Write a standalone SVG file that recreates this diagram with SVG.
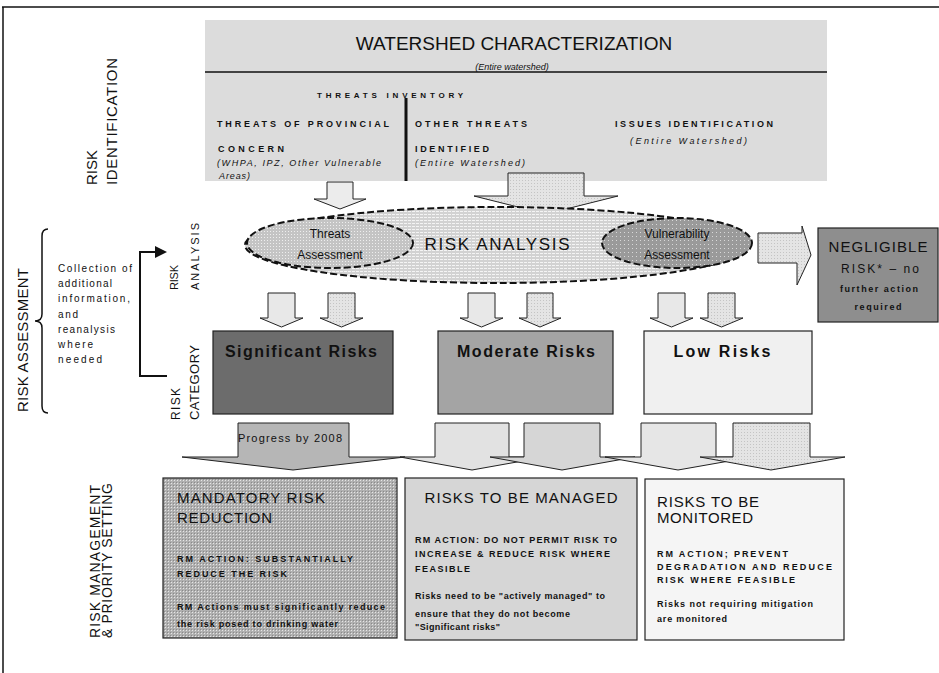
<svg xmlns="http://www.w3.org/2000/svg" width="939" height="673" viewBox="0 0 939 673">
<style>
text{font-family:"Liberation Sans",Arial,sans-serif;fill:#111}
.b{font-weight:bold}
.i{font-style:italic}
.ln{stroke:#111;fill:none}
.box{stroke:#222;stroke-width:1.2}
.arr{stroke:#222;stroke-width:1}
.sm{font-size:9px}
.hd{font-size:15px}
</style>
<defs>
<pattern id="pLines" width="4" height="3" patternUnits="userSpaceOnUse"><rect width="4" height="3" fill="#d2d2d2"/><rect y="1" width="3" height="1" fill="#f4f4f4"/></pattern>
<pattern id="pDotsL" width="3" height="3" patternUnits="userSpaceOnUse"><rect width="3" height="3" fill="#c4c4c4"/><rect width="1" height="1" fill="#eeeeee"/></pattern>
<pattern id="pDotsD" width="4" height="4" patternUnits="userSpaceOnUse"><rect width="4" height="4" fill="#9a9a9a"/><rect width="1" height="1" fill="#d8d8d8"/></pattern>
<pattern id="pMand" width="3" height="3" patternUnits="userSpaceOnUse"><rect width="3" height="3" fill="#b0b0b0"/><rect width="1" height="1" fill="#e6e6e6"/><rect x="2" y="2" width="1" height="1" fill="#8a8a8a"/></pattern>
<pattern id="pStip" width="3" height="3" patternUnits="userSpaceOnUse"><rect width="3" height="3" fill="#e4e4e4"/><rect width="1" height="1" fill="#c4c4c4"/></pattern>
</defs>

<g id="frame">
<line class="ln" x1="2" y1="7" x2="939" y2="7" stroke-width="1.5"/>
<line class="ln" x1="3" y1="7" x2="3" y2="673" stroke-width="1.5"/>
</g>

<g id="side-labels">
<text style="font-size:15px" transform="translate(97,185) rotate(-90)">RISK</text>
<text style="font-size:15px" transform="translate(117,185) rotate(-90)" textLength="127" lengthAdjust="spacing">IDENTIFICATION</text>
<text style="font-size:15px" transform="translate(28,412) rotate(-90)" textLength="144" lengthAdjust="spacing">RISK ASSESSMENT</text>
<text style="font-size:14px" transform="translate(100,638) rotate(-90)" textLength="153" lengthAdjust="spacing">RISK MANAGEMENT</text>
<text style="font-size:14px" transform="translate(112,638) rotate(-90)" textLength="155" lengthAdjust="spacing">&amp; PRIORITY SETTING</text>
<text style="font-size:11px" transform="translate(178,290) rotate(-90)" textLength="25" lengthAdjust="spacing">RISK</text>
<text style="font-size:11px" transform="translate(199,290) rotate(-90)" textLength="67" lengthAdjust="spacing">ANALYSIS</text>
<text style="font-size:12px" transform="translate(180,420) rotate(-90)" textLength="32" lengthAdjust="spacing">RISK</text>
<text style="font-size:13px" transform="translate(199,420) rotate(-90)" textLength="75" lengthAdjust="spacing">CATEGORY</text>
</g>

<g id="reanalysis">
<path class="ln" stroke-width="1.5" d="M48,229 Q42,229 42,236 L42,314 Q42,321 35,321 Q42,321 42,328 L42,406 Q42,413 48,413"/>
<g style="font-size:10px">
<text x="58" y="272" textLength="74" lengthAdjust="spacing">Collection of</text>
<text x="58" y="287" textLength="54" lengthAdjust="spacing">additional</text>
<text x="58" y="302" textLength="72" lengthAdjust="spacing">information,</text>
<text x="58" y="318" textLength="20" lengthAdjust="spacing">and</text>
<text x="58" y="333" textLength="57" lengthAdjust="spacing">reanalysis</text>
<text x="58" y="348" textLength="35" lengthAdjust="spacing">where</text>
<text x="58" y="363" textLength="44" lengthAdjust="spacing">needed</text>
</g>
</g>

<g id="connectors">
<polyline class="ln" stroke-width="2" points="167,376 140,376 140,252 156,252"/>
<polygon points="155,246 167,252 155,258" fill="#111"/>
<line class="ln" x1="545" y1="70" x2="545" y2="202" stroke-width="1.5"/>
</g>

<g id="watershed">
<rect x="205" y="20" width="622" height="161" fill="#dcdcdc"/>
<line class="ln" x1="205" y1="72" x2="827" y2="72" stroke-width="1.5"/>
<line class="ln" x1="406" y1="98" x2="406" y2="181" stroke-width="3"/>
<text x="514" y="50" text-anchor="middle" style="font-size:19px">WATERSHED CHARACTERIZATION</text>
<text x="512" y="70" text-anchor="middle" class="i" style="font-size:9px">(Entire watershed)</text>
<text x="317" y="98" class="b" style="font-size:8px" textLength="146" lengthAdjust="spacing">THREATS INVENTORY</text>
<text x="217" y="127" class="b sm" textLength="172" lengthAdjust="spacing">THREATS OF PROVINCIAL</text>
<text x="218" y="152" class="b sm" textLength="66" lengthAdjust="spacing">CONCERN</text>
<text x="217" y="166" class="i sm" textLength="164" lengthAdjust="spacing">(WHPA, IPZ, Other Vulnerable</text>
<text x="219" y="179" class="i sm" textLength="31" lengthAdjust="spacing">Areas)</text>
<text x="415" y="127" class="b sm" textLength="112" lengthAdjust="spacing">OTHER THREATS</text>
<text x="415" y="152" class="b sm" textLength="74" lengthAdjust="spacing">IDENTIFIED</text>
<text x="415" y="166" class="i sm" textLength="110" lengthAdjust="spacing">(Entire Watershed)</text>
<text x="615" y="127" class="b sm" textLength="158" lengthAdjust="spacing">ISSUES IDENTIFICATION</text>
<text x="630" y="144" class="i sm" textLength="117" lengthAdjust="spacing">(Entire Watershed)</text>
</g>

<g id="top-arrows">
<polygon class="arr" fill="#ececec" points="327,182 353,182 353,199 366,199 340,209 314,199 327,199"/>
<polygon class="arr" fill="url(#pStip)" points="508,173 584,173 584,196 618,196 546,214 474,196 508,196"/>
</g>

<g id="risk-analysis">
<ellipse cx="497" cy="245" rx="252" ry="38" fill="url(#pLines)" stroke="#111" stroke-width="2" stroke-dasharray="7,3"/>
<text x="497" y="250" text-anchor="middle" style="font-size:17px" textLength="145" lengthAdjust="spacing">RISK ANALYSIS</text>
</g>
<g id="threats-assessment">
<ellipse cx="330" cy="243" rx="83" ry="25" fill="url(#pDotsL)" stroke="#111" stroke-width="2" stroke-dasharray="7,3"/>
<text x="330" y="238" text-anchor="middle" style="font-size:12px">Threats</text>
<text x="330" y="259" text-anchor="middle" style="font-size:12px">Assessment</text>
</g>
<g id="vulnerability-assessment">
<ellipse cx="677" cy="243" rx="75" ry="25" fill="url(#pDotsD)" stroke="#111" stroke-width="2" stroke-dasharray="7,3"/>
<text x="677" y="238" text-anchor="middle" style="font-size:12px">Vulnerability</text>
<text x="677" y="259" text-anchor="middle" style="font-size:12px">Assessment</text>
</g>

<g id="negligible-arrow">
<polygon class="arr" fill="url(#pStip)" points="758,233 802,233 802,226 811,255 797,285 797,263 758,263"/>
</g>
<g id="negligible">
<rect class="box" x="818" y="228" width="120" height="94" fill="#8e8e8e"/>
<text x="878" y="252" text-anchor="middle" style="font-size:15px" textLength="99" lengthAdjust="spacing">NEGLIGIBLE</text>
<text x="880" y="273" text-anchor="middle" style="font-size:12px" textLength="78" lengthAdjust="spacing">RISK* – no</text>
<text x="879" y="292" text-anchor="middle" class="b sm" textLength="78" lengthAdjust="spacing">further action</text>
<text x="878" y="310" text-anchor="middle" class="b sm" textLength="47" lengthAdjust="spacing">required</text>
</g>

<g id="small-arrows">
<polygon class="arr" fill="#e8e8e8" points="268,293 295,293 295,318 303,318 281.5,327 260,318 268,318"/>
<polygon class="arr" fill="url(#pStip)" points="328,293 355,293 355,318 363,318 341.5,327 320,318 328,318"/>
<polygon class="arr" fill="#e8e8e8" points="468,293 495,293 495,318 503,318 481.5,327 460,318 468,318"/>
<polygon class="arr" fill="url(#pStip)" points="527,293 553,293 553,318 561,318 540,327 519,318 527,318"/>
<polygon class="arr" fill="#e8e8e8" points="658,293 685,293 685,318 693,318 671.5,327 650,318 658,318"/>
<polygon class="arr" fill="url(#pStip)" points="708,293 735,293 735,318 743,318 721.5,327 700,318 708,318"/>
</g>

<g id="significant">
<rect class="box" x="213" y="331" width="180" height="83" fill="#6c6c6c"/>
<text x="301" y="357" text-anchor="middle" class="b" style="font-size:16px" textLength="152" lengthAdjust="spacing">Significant Risks</text>
</g>
<g id="moderate">
<rect class="box" x="438" y="331" width="175" height="83" fill="#a4a4a4"/>
<text x="526" y="357" text-anchor="middle" class="b" style="font-size:16px" textLength="138" lengthAdjust="spacing">Moderate Risks</text>
</g>
<g id="low">
<rect class="box" x="644" y="331" width="168" height="83" fill="#f0f0f0"/>
<text x="722" y="357" text-anchor="middle" class="b" style="font-size:16px" textLength="97" lengthAdjust="spacing">Low Risks</text>
</g>

<g id="bottom-arrows">
<polygon class="arr" fill="#b6b6b6" points="238,423 349,423 349,457 405,457 293,470 182,457 238,457"/>
<text x="238" y="442" style="font-size:11px" textLength="104" lengthAdjust="spacing">Progress by 2008</text>
<polygon class="arr" fill="#e2e2e2" points="435,423 509,423 509,457 545,457 472,470 400,457 435,457"/>
<polygon class="arr" fill="#d6d6d6" points="524,423 600,423 600,457 635,457 562,470 490,457 524,457"/>
<polygon class="arr" fill="#e6e6e6" points="641,423 716,423 716,457 752,457 678,470 605,457 641,457"/>
<polygon class="arr" fill="url(#pStip)" points="733,423 810,423 810,457 845,457 771,470 700,457 733,457"/>
</g>

<g id="mandatory">
<rect class="box" x="163" y="478" width="234" height="160" fill="url(#pMand)"/>
<text x="177" y="503" class="hd" textLength="148" lengthAdjust="spacing">MANDATORY RISK</text>
<text x="177" y="523" class="hd" textLength="95" lengthAdjust="spacing">REDUCTION</text>
<text x="177" y="562" class="b sm" textLength="176" lengthAdjust="spacing">RM ACTION: SUBSTANTIALLY</text>
<text x="177" y="577" class="b sm" textLength="110" lengthAdjust="spacing">REDUCE THE RISK</text>
<text x="177" y="610" class="b sm" textLength="208" lengthAdjust="spacing">RM Actions must significantly reduce</text>
<text x="177" y="627" class="b sm" textLength="161" lengthAdjust="spacing">the risk posed to drinking water</text>
</g>
<g id="managed">
<rect class="box" x="405" y="478" width="232" height="162" fill="#d6d6d6"/>
<text x="521" y="503" text-anchor="middle" class="hd" textLength="193" lengthAdjust="spacing">RISKS TO BE MANAGED</text>
<text x="415" y="543" class="b sm" textLength="202" lengthAdjust="spacing">RM ACTION: DO NOT PERMIT RISK TO</text>
<text x="415" y="557" class="b sm" textLength="195" lengthAdjust="spacing">INCREASE &amp; REDUCE RISK WHERE</text>
<text x="415" y="572" class="b sm" textLength="55" lengthAdjust="spacing">FEASIBLE</text>
<text x="415" y="599" class="b sm" textLength="190" lengthAdjust="spacing">Risks need to be "actively managed" to</text>
<text x="415" y="617" class="b sm" textLength="155" lengthAdjust="spacing">ensure that they do not become</text>
<text x="415" y="630" class="b sm" textLength="85" lengthAdjust="spacing">"Significant risks"</text>
</g>
<g id="monitored">
<rect class="box" x="645" y="479" width="199" height="161" fill="#f5f5f5"/>
<text x="657" y="507" class="hd" textLength="102" lengthAdjust="spacing">RISKS TO BE</text>
<text x="657" y="523" class="hd" textLength="96" lengthAdjust="spacing">MONITORED</text>
<text x="657" y="557" class="b sm" textLength="131" lengthAdjust="spacing">RM ACTION; PREVENT</text>
<text x="657" y="570" class="b sm" textLength="175" lengthAdjust="spacing">DEGRADATION AND REDUCE</text>
<text x="657" y="583" class="b sm" textLength="138" lengthAdjust="spacing">RISK WHERE FEASIBLE</text>
<text x="657" y="607" class="b sm" textLength="156" lengthAdjust="spacing">Risks not requiring mitigation</text>
<text x="657" y="622" class="b sm" textLength="70" lengthAdjust="spacing">are monitored</text>
</g>
</svg>
